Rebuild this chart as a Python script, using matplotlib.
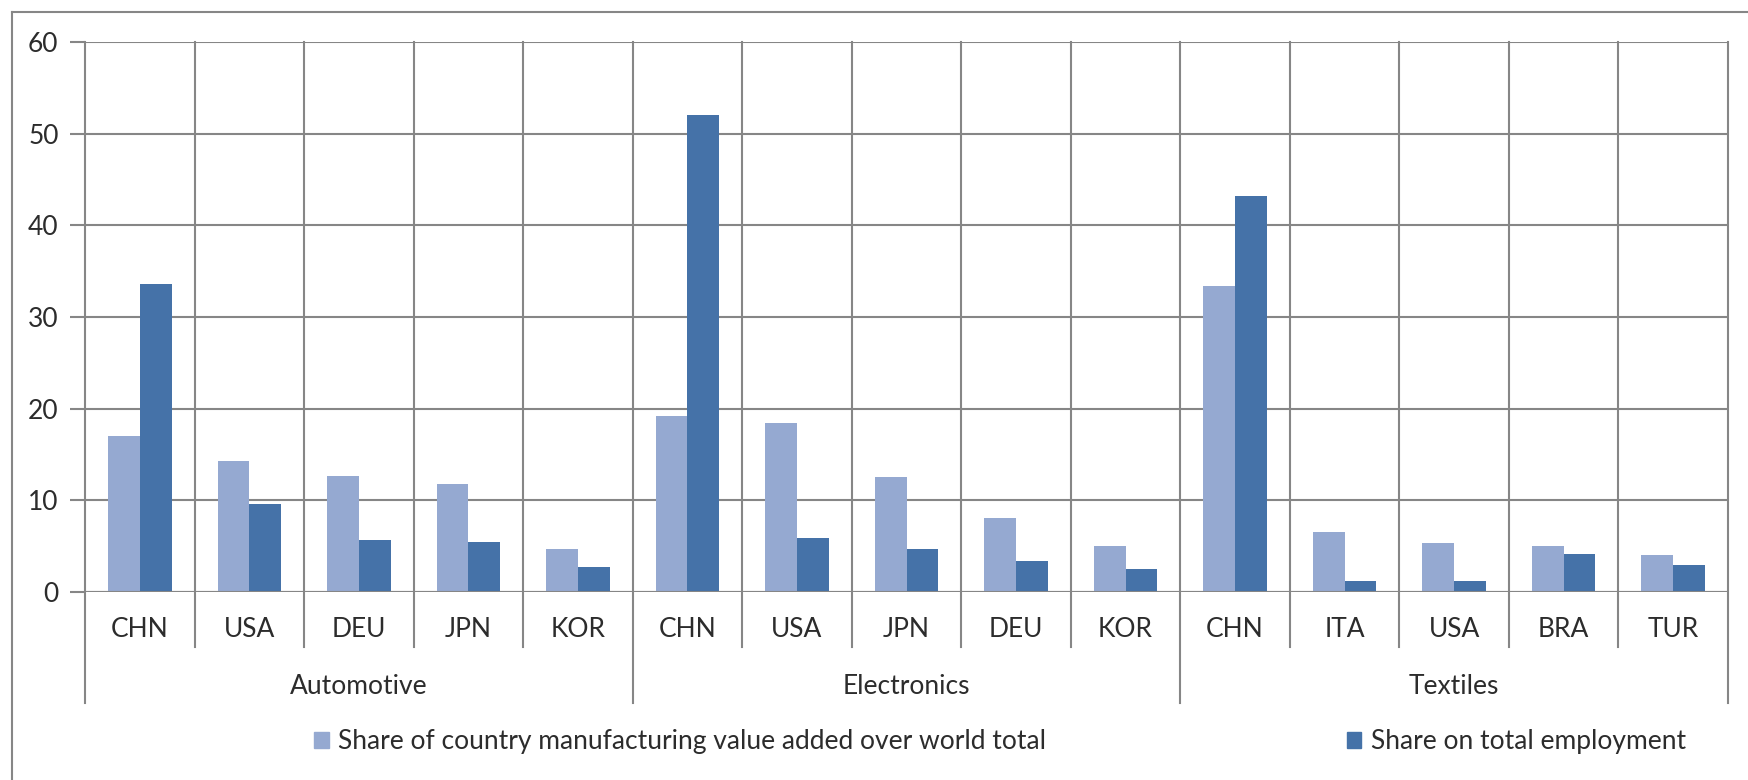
import numpy as np
import matplotlib
matplotlib.use('Agg')
from matplotlib import pyplot as plt
from matplotlib.lines import Line2D
from matplotlib.patches import Patch

plt.rcParams['font.family'] = ['Lato', 'DejaVu Sans']

sectors   = ['Automotive', 'Electronics', 'Textiles']
countries = ['CHN', 'USA', 'DEU', 'JPN', 'KOR',
             'CHN', 'USA', 'JPN', 'DEU', 'KOR',
             'CHN', 'ITA', 'USA', 'BRA', 'TUR']
value_added = [17.0, 14.3, 12.7, 11.8, 4.7,
               19.2, 18.4, 12.5, 8.1, 5.05,
               33.4, 6.6, 5.3, 5.05, 4.0]
employment  = [33.6, 9.55, 5.65, 5.5, 2.7,
               52.0, 5.9, 4.7, 3.4, 2.55,
               43.2, 1.25, 1.25, 4.2, 2.9]
label_va  = 'Share of country manufacturing value added over world total'
label_emp = 'Share on total employment'

light = '#95a9d1'
dark  = '#4572a8'
grid  = '#868686'
txt   = '#2c2c2c'
fs    = 19

fig = plt.figure(figsize=(17.48, 7.80), dpi=100)
ax  = fig.add_axes([85/1748, 1-592/780, (1728-85)/1748, 550/780])

x = np.arange(len(countries))
w = 0.29
ax.bar(x - w/2, value_added, w, color=light, zorder=3)
ax.bar(x + w/2, employment,  w, color=dark,  zorder=3)

ax.set_xlim(-0.5, len(countries) - 0.5)
ax.set_ylim(0, 60)
ax.set_yticks(range(0, 61, 10))
ax.yaxis.grid(True, color=grid, linewidth=1.5, zorder=0)
ax.tick_params(axis='y', length=11, width=1.5, color=grid, labelsize=fs,
               labelcolor=txt, pad=8)
ax.set_xticks(x)
ax.set_xticklabels(countries, fontsize=fs, color=txt)
ax.tick_params(axis='x', length=0, pad=18)
for s in ax.spines.values():
    s.set_visible(False)

# category separators, longer ones between sectors
xt = ax.get_xaxis_transform()
n_per = len(countries) // len(sectors)
for b in np.arange(len(countries) + 1) - 0.5:
    long_line = (b + 0.5) % n_per == 0
    ax.plot([b, b], [-0.2018 if long_line else -0.1, 1], transform=xt,
            color=grid, linewidth=1.5, clip_on=False, zorder=1)
ax.plot([-0.5, len(countries) - 0.5], [0, 0], color=grid, linewidth=1.5, zorder=4)

for i, name in enumerate(sectors):
    ax.text(i * n_per + (n_per - 1) / 2, -0.172, name, transform=xt,
            ha='center', va='center', fontsize=fs, color=txt)

handles = [Patch(color=light), Patch(color=dark)]
fig.legend(handles, [label_va, label_emp], loc='center',
           bbox_to_anchor=(1000/1748, 1-742/780), ncol=2, frameon=False,
           fontsize=fs, labelcolor=txt, handlelength=0.55, handleheight=0.55,
           handletextpad=0.35, columnspacing=11.4)

# chart border
fig.add_artist(Line2D([12/1748, 12/1748], [0, 1-12/780], color=grid, linewidth=1.5))
fig.add_artist(Line2D([12/1748, 1], [1-12/780, 1-12/780], color=grid, linewidth=1.5))

fig.savefig('out.png', dpi=100)
